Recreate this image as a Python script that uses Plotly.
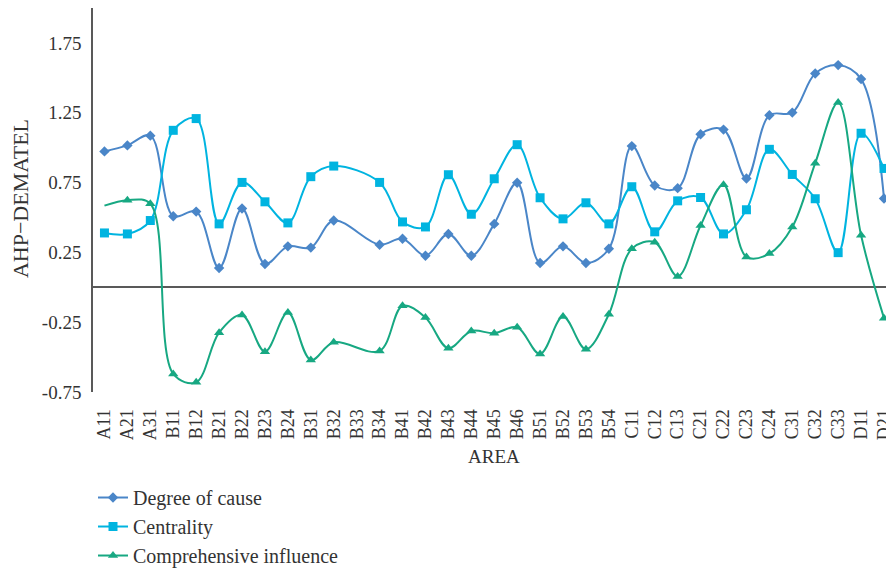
import plotly.graph_objects as go

# Evaluation areas (x categories)
areas = ["A11", "A21", "A31", "B11", "B12", "B21", "B22", "B23", "B24", "B31",
         "B32", "B33", "B34", "B41", "B42", "B43", "B44", "B45", "B46", "B51",
         "B52", "B53", "B54", "C11", "C12", "C13", "C21", "C22", "C23", "C24",
         "C31", "C32", "C33", "D11", "D21"]

# Series values (B33 has no recorded value; the line is carried across it)
degree_of_cause = [0.973, 1.016, 1.086, 0.509, 0.542, 0.138, 0.564, 0.167, 0.293, 0.284,
                   0.478, None, 0.305, 0.348, 0.226, 0.382, 0.226, 0.454, 0.748, 0.174,
                   0.293, 0.174, 0.276, 1.011, 0.729, 0.710, 1.096, 1.129, 0.779, 1.232,
                   1.251, 1.531, 1.591, 1.491, 0.636]
centrality = [0.389, 0.382, 0.478, 1.124, 1.208, 0.454, 0.751, 0.612, 0.461, 0.792,
              0.868, None, 0.751, 0.468, 0.432, 0.806, 0.523, 0.777, 1.021, 0.641,
              0.490, 0.605, 0.454, 0.720, 0.397, 0.619, 0.643, 0.382, 0.555, 0.988,
              0.808, 0.634, 0.248, 1.103, 0.851]
comprehensive = [0.585, 0.624, 0.598, -0.621, -0.681, -0.325, -0.198, -0.461, -0.181, -0.521,
                 -0.394, None, -0.456, -0.133, -0.217, -0.437, -0.313, -0.329, -0.286, -0.478,
                 -0.210, -0.444, -0.193, 0.276, 0.322, 0.078, 0.442, 0.734, 0.217, 0.241,
                 0.432, 0.889, 1.323, 0.372, -0.221]

y_ticks = [-0.75, -0.25, 0.25, 0.75, 1.25, 1.75]
y_tick_labels = ["-0.75", "-0.25", "0.25", "0.75", "1.25", "1.75"]

FONT = "Liberation Serif"
TEXT = "#333333"

# the first comprehensive-influence point is drawn without a visible marker
comp_opacity = [0] + [1] * (len(areas) - 1)

fig = go.Figure()
fig.add_trace(go.Scatter(
    x=areas, y=degree_of_cause, name="Degree of cause", mode="lines+markers",
    connectgaps=True, line=dict(color="#4a86c8", width=2, shape="spline", smoothing=1),
    marker=dict(symbol="diamond", size=8, color="#4a86c8")))
fig.add_trace(go.Scatter(
    x=areas, y=centrality, name="Centrality", mode="lines+markers",
    connectgaps=True, line=dict(color="#00b4e0", width=2, shape="spline", smoothing=1),
    marker=dict(symbol="square", size=9, color="#00b4e0")))
fig.add_trace(go.Scatter(
    x=areas, y=comprehensive, name="Comprehensive influence", mode="lines+markers",
    connectgaps=True, line=dict(color="#17a882", width=2, shape="spline", smoothing=1),
    marker=dict(symbol="triangle-up", size=9, color="#17a882", opacity=comp_opacity)))

fig.update_layout(
    template="none",
    width=886, height=571,
    margin=dict(l=93, r=0, t=8, b=179, autoexpand=False),
    paper_bgcolor="white", plot_bgcolor="white",
    font=dict(family=FONT, color=TEXT, size=18),
    showlegend=True,
    legend=dict(x=0.0, y=-0.224, xanchor="left", yanchor="top",
                bgcolor="rgba(0,0,0,0)", borderwidth=0, tracegroupgap=0,
                font=dict(family=FONT, size=20, color=TEXT)),
    xaxis=dict(
        type="category", range=[-0.5, 34.087],
        showgrid=False, showline=False, zeroline=False,
        tickangle=-90, ticks="outside", ticklen=9, tickcolor="rgba(0,0,0,0)",
        tickfont=dict(family=FONT, size=18, color=TEXT)),
    yaxis=dict(
        range=[-0.75, 2.0], tickvals=y_ticks, ticktext=y_tick_labels,
        showgrid=False, showline=True, linecolor="#595959", linewidth=1.5,
        zeroline=True, zerolinecolor="#595959", zerolinewidth=2,
        ticks="outside", ticklen=6, tickcolor="rgba(0,0,0,0)",
        tickfont=dict(family=FONT, size=19, color=TEXT)),
    annotations=[
        dict(text="AREA", xref="paper", yref="paper", x=0.5057, y=-0.168,
             xanchor="center", yanchor="middle", showarrow=False,
             font=dict(family=FONT, size=19, color=TEXT)),
        dict(text="AHP\u2212DEMATEL", xref="paper", yref="paper", x=-0.092, y=0.5026,
             xanchor="center", yanchor="middle", textangle=-90, showarrow=False,
             font=dict(family=FONT, size=22, color=TEXT)),
    ],
)

fig.write_html("out.html")
